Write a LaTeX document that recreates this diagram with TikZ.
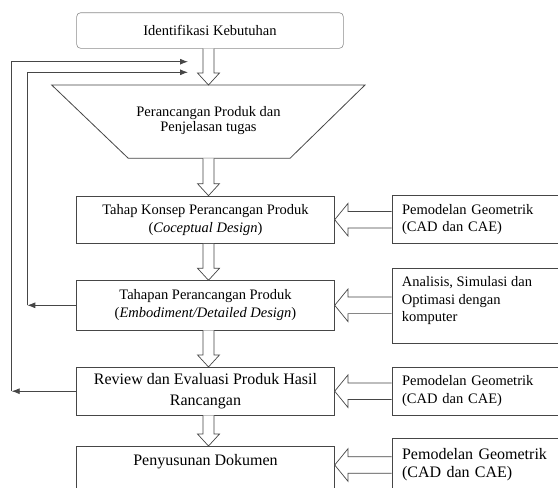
\documentclass[tikz,border=0pt]{standalone}
\usepackage{fontspec}
\setmainfont{Liberation Serif}
\usetikzlibrary{arrows.meta,calc}
\definecolor{linegray}{RGB}{70,70,70}
\definecolor{framegray}{RGB}{140,140,140}
\tikzset{
    topbox/.style={draw=framegray, line width=0.6pt, rounded corners=4pt,
                   minimum width=266.7pt, minimum height=35.6pt, inner sep=0pt,
                   font=\fontsize{14.5}{17}\selectfont},
    stagebox/.style={draw=linegray, line width=0.8pt, minimum width=257.6pt,
                     minimum height=#1, align=center, inner sep=0pt},
    toolbox/.style={draw=linegray, line width=0.8pt, anchor=north west,
                    minimum height=#1, text width=180pt, align=left,
                    inner xsep=10pt, inner ysep=0pt},
    fat/.style={draw=linegray, line width=0.7pt, fill=white},
    fb/.style={draw=linegray, line width=0.8pt, -{Latex[length=8pt,width=6pt]}},
}
% hollow block arrows
\newcommand{\fatdown}[2]{%
  \draw[fat] let \p1=(#1), \p2=(#2) in
    (\x1-5.5pt,\y1) -- (\x1-5.5pt,\y2+12pt) -- (\x1-11pt,\y2+12pt) -- (\x1,\y2)
    -- (\x1+11pt,\y2+12pt) -- (\x1+5.5pt,\y2+12pt) -- (\x1+5.5pt,\y1);}
\newcommand{\fatleft}[2]{%
  \draw[fat] let \p1=(#1), \p2=(#2) in
    (\x1,\y2+8.3pt) -- (\x2+13.3pt,\y2+8.3pt) -- (\x2+13.3pt,\y2+16.3pt) -- (\x2,\y2)
    -- (\x2+13.3pt,\y2-16.3pt) -- (\x2+13.3pt,\y2-8.3pt) -- (\x1,\y2-8.3pt);}

\begin{document}
\begin{tikzpicture}[x=1pt, y=-1pt]
    \useasboundingbox[fill=white] (0,0) rectangle (558,488);

    % main column
    \node[topbox] (need) at (210,30.5) {Identifikasi Kebutuhan};
    \draw[linegray, line width=0.8pt] (51.7,85) coordinate (traptop)
        -- (365,85) -- (290,158.3) -- (128.3,158.3) coordinate (trapbot) -- cycle;
    \node[align=center, font=\fontsize{14.5}{15}\selectfont] (plan) at (208.5,120.5)
        {Perancangan Produk dan\\Penjelasan tugas};
    \node[stagebox=47.3pt, font=\fontsize{14.5}{18}\selectfont] (concept) at (205.5,219.7)
        {Tahap Konsep Perancangan Produk\\(\textit{Coceptual Design})};
    \node[stagebox=49.3pt, font=\fontsize{14.5}{17.7}\selectfont] (embody) at (205.5,305.3)
        {Tahapan Perancangan Produk\\(\textit{Embodiment/Detailed Design})};
    \node[stagebox=47.7pt, font=\fontsize{16}{21.3}\selectfont] (review) at (205.5,391.2)
        {Review dan Evaluasi Produk Hasil\\Rancangan};
    \node[stagebox=0pt, anchor=north, text height=19.5pt, text depth=40pt,
          font=\fontsize{16}{19}\selectfont] (docs) at (205.5,446) {Penyusunan Dokumen};

    % tool boxes
    \node[toolbox=48.3pt, font=\fontsize{14.5}{17.6}\selectfont] (cad1) at (391.7,195)
        {Pemodelan Geometrik\\(CAD dan CAE)};
    \node[toolbox=75pt] (sim) at (391.7,268.3) {};
    \node[anchor=north west, inner sep=0pt, align=left,
          font=\fontsize{14.5}{17.5}\selectfont] (simtext) at (401.7,276.5)
        {Analisis, Simulasi dan\\Optimasi dengan\\komputer};
    \node[toolbox=48.3pt, font=\fontsize{14.5}{17.6}\selectfont] (cad2) at (391.7,366.7)
        {Pemodelan Geometrik\\(CAD dan CAE)};
    \node[toolbox=52.4pt, font=\fontsize{16}{18.3}\selectfont] (cad3) at (391.7,438.3)
        {Pemodelan Geometrik\\(CAD dan CAE)};

    % axis of the down arrows
    \coordinate (axis) at (208.5,0);
    \fatdown{need.south -| axis}{traptop -| axis}
    \fatdown{trapbot -| axis}{concept.north -| axis}
    \fatdown{concept.south -| axis}{embody.north -| axis}
    \fatdown{embody.south -| axis}{review.north -| axis}
    \fatdown{review.south -| axis}{docs.north -| axis}

    \fatleft{cad1.west}{concept.east}
    \fatleft{sim.west}{embody.east}
    \fatleft{cad2.west}{review.east}
    \fatleft{cad3.west}{$(docs.north east)+(0,19)$}

    % feedback loops
    \coordinate (outer) at (11.7,391.2);
    \coordinate (inner) at (27.3,305.3);
    \coordinate (outerend) at (188,61.7);
    \coordinate (innerend) at (188,72.3);
    \draw[fb] (review.west) -- (outer);
    \draw[fb] (outer) |- (outerend);
    \draw[fb] (embody.west) -- (inner);
    \draw[fb] (inner) |- (innerend);
\end{tikzpicture}
\end{document}
